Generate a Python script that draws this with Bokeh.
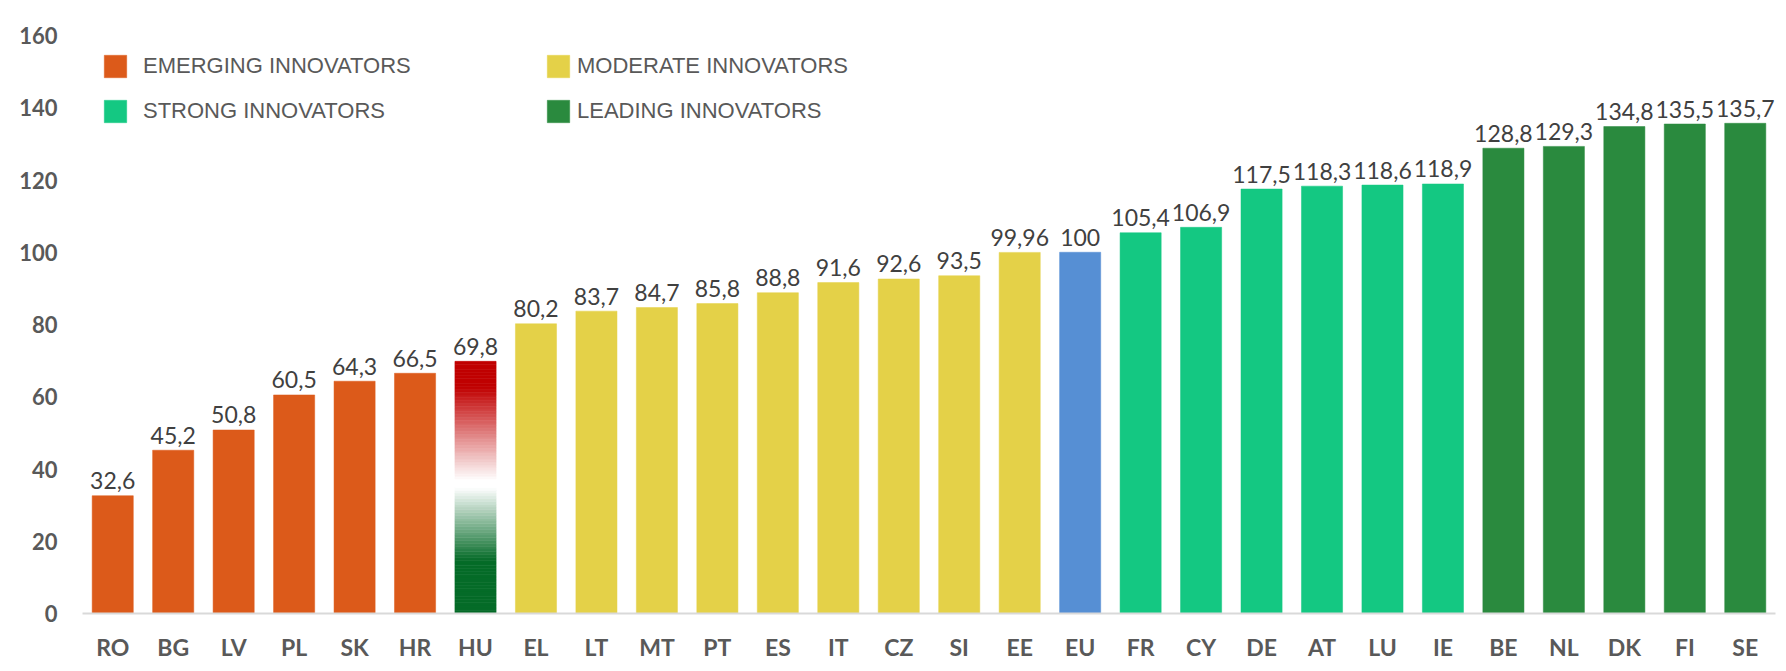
from bokeh.plotting import figure
from bokeh.models import (FactorRange, Range1d, FixedTicker, Legend, LegendItem,
                          ColumnDataSource, BoxAnnotation)
from bokeh.core.properties import value
from bokeh.embed import file_html
from bokeh.resources import INLINE

countries = ["RO", "BG", "LV", "PL", "SK", "HR", "HU", "EL", "LT", "MT", "PT", "ES", "IT", "CZ",
             "SI", "EE", "EU", "FR", "CY", "DE", "AT", "LU", "IE", "BE", "NL", "DK", "FI", "SE"]
scores = [32.6, 45.2, 50.8, 60.5, 64.3, 66.5, 69.8, 80.2, 83.7, 84.7, 85.8, 88.8, 91.6, 92.6,
          93.5, 99.96, 100, 105.4, 106.9, 117.5, 118.3, 118.6, 118.9, 128.8, 129.3, 134.8, 135.5, 135.7]
groups = ["emerging"] * 6 + ["hu"] + ["moderate"] * 9 + ["eu"] + ["strong"] * 6 + ["leading"] * 5
group_labels = {"emerging": "EMERGING INNOVATORS", "moderate": "MODERATE INNOVATORS",
                "strong": "STRONG INNOVATORS", "leading": "LEADING INNOVATORS"}
y_ticks = [0, 20, 40, 60, 80, 100, 120, 140, 160]

colors = {"emerging": "#DC5A1A", "moderate": "#E4D148", "eu": "#568FD4",
          "strong": "#14C882", "leading": "#2A8A3E"}
BAR_W = 0.68

p = figure(x_range=FactorRange(factors=countries), y_range=Range1d(0, 160),
           width=1778, height=663, output_backend="svg", toolbar_location=None,
           min_border_left=82, min_border_right=3, min_border_top=35, min_border_bottom=47)
p.outline_line_color = None
p.xgrid.grid_line_color = None
p.ygrid.grid_line_color = None
p.background_fill_color = "white"
p.border_fill_color = "white"

# thin light-grey chart frame (only its top and left edges are inside the picture)
p.add_layout(BoxAnnotation(left=7, top=11, right=4000, bottom=4000,
                           left_units="canvas", right_units="canvas",
                           top_units="canvas", bottom_units="canvas",
                           fill_alpha=0, line_color="#d4d4d4", line_width=2))

renderers = {}
for g in ["emerging", "moderate", "eu", "strong", "leading"]:
    xs = [c for c, gg in zip(countries, groups) if gg == g]
    ys = [v for v, gg in zip(scores, groups) if gg == g]
    src = ColumnDataSource(dict(x=xs, top=ys))
    renderers[g] = p.vbar(x="x", top="top", width=BAR_W, source=src,
                          fill_color=colors[g], line_color=colors[g], line_width=0.5)

# Hungarian flag gradient bar (red / white / green)
stops = [(0.0, (5, 107, 40)), (0.21, (5, 107, 40)), (0.50, (255, 255, 255)),
         (0.53, (255, 255, 255)), (0.90, (192, 0, 0)), (1.0, (192, 0, 0))]


def grad_color(t):
    for (t0, c0), (t1, c1) in zip(stops[:-1], stops[1:]):
        if t0 <= t <= t1:
            f = 0 if t1 == t0 else (t - t0) / (t1 - t0)
            c = [round(a + (b - a) * f) for a, b in zip(c0, c1)]
            return "#%02x%02x%02x" % tuple(c)
    return "#c00000"


hu_val = [v for v, gg in zip(scores, groups) if gg == "hu"][0]
hu_cat = [c for c, gg in zip(countries, groups) if gg == "hu"][0]
n = 90
hb = [hu_val * i / n for i in range(n)]
ht = [hu_val * (i + 1) / n for i in range(n)]
hc = [grad_color((i + 0.5) / n) for i in range(n)]
p.vbar(x=[hu_cat] * n, bottom=hb, top=ht, width=BAR_W, fill_color=hc, line_color=hc, line_width=0.6)

# value labels
labels = [("%g" % v).replace(".", ",") for v in scores]
p.text(x=countries, y=scores, text=labels, text_align="center", text_baseline="alphabetic",
       y_offset=-15, text_font=value("Lato"), text_font_size="23px", text_color="#404040")

# axes
p.yaxis.ticker = FixedTicker(ticks=y_ticks)
p.yaxis.axis_line_color = None
p.yaxis.major_tick_line_color = None
p.yaxis.minor_tick_line_color = None
p.yaxis.major_tick_out = 0
p.yaxis.major_tick_in = 0
p.yaxis.major_label_standoff = 25
p.yaxis.major_label_text_font = "Lato"
p.yaxis.major_label_text_font_style = "bold"
p.yaxis.major_label_text_font_size = "22px"
p.yaxis.major_label_text_color = "#595959"

p.xaxis.axis_line_color = "#d9d9d9"
p.xaxis.axis_line_width = 2
p.xaxis.major_tick_line_color = None
p.xaxis.minor_tick_line_color = None
p.xaxis.major_tick_out = 0
p.xaxis.major_tick_in = 0
p.xaxis.major_label_standoff = 19
p.xaxis.major_label_text_font = "Lato"
p.xaxis.major_label_text_font_style = "bold"
p.xaxis.major_label_text_font_size = "23px"
p.xaxis.major_label_text_color = "#595959"


def make_legend(keys, loc, standoff):
    lg = Legend(items=[LegendItem(label=group_labels[k], renderers=[renderers[k]]) for k in keys],
                location=loc, orientation="vertical", padding=0, margin=0, spacing=17,
                glyph_width=28, glyph_height=28, label_standoff=standoff,
                label_text_font="Liberation Sans", label_text_font_size="22px",
                label_text_color="#595959", background_fill_alpha=0, border_line_color=None)
    p.add_layout(lg)


make_legend(["emerging", "strong"], (19, 488), 14)
make_legend(["moderate", "leading"], (462, 488), 5)

open("out.html", "w").write(file_html(p, INLINE))
